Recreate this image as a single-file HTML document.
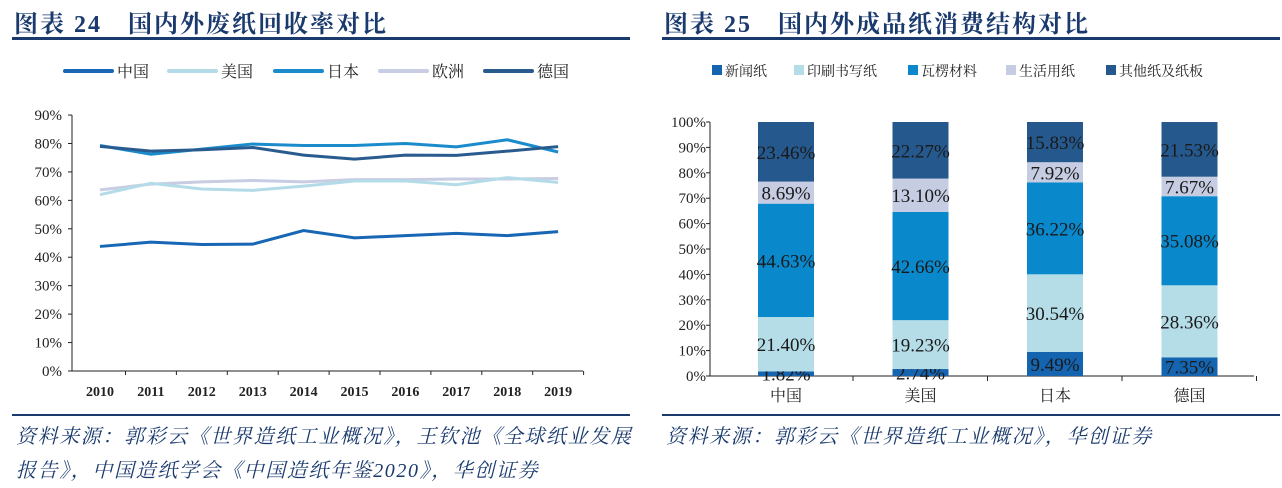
<!DOCTYPE html>
<html><head><meta charset="utf-8"><style>
body{margin:0;width:1282px;height:486px;background:#fff;overflow:hidden;font-family:"Liberation Serif","Noto Serif CJK SC",serif;}
.t{position:absolute;font-weight:bold;font-size:24px;color:#1a3a6e;top:4px;letter-spacing:2px}
.src{position:absolute;font-style:italic;font-size:20px;color:#1a3a6e;font-family:"Liberation Serif","Noto Serif CJK SC",serif;white-space:nowrap;letter-spacing:1.6px}
.hl{position:absolute;height:3px;background:#1a3a6e}
</style></head><body>
<div class="t" style="left:14px">图表 24　国内外废纸回收率对比</div>
<div class="t" style="left:664px">图表 25　国内外成品纸消费结构对比</div>
<div class="hl" style="left:12px;top:37px;width:618px"></div>
<div class="hl" style="left:662px;top:37px;width:618px"></div>
<div class="hl" style="left:12px;top:414px;width:618px;height:2px"></div>
<div class="hl" style="left:662px;top:414px;width:618px;height:2px"></div>
<div class="src" style="left:16px;top:420px;line-height:34px">资料来源：郭彩云《世界造纸工业概况》，王钦池《全球纸业发展<br>报告》，中国造纸学会《中国造纸年鉴2020》，华创证券</div>
<div class="src" style="left:666px;top:420px;line-height:34px">资料来源：郭彩云《世界造纸工业概况》，华创证券</div>
<svg id="c1" width="640" height="400" style="position:absolute;left:0;top:0"></svg>
<svg id="c2" width="640" height="410" style="position:absolute;left:640px;top:0"></svg>
<script>
const years=['2010','2011','2012','2013','2014','2015','2016','2017','2018','2019'];
const seriesNames=['中国','美国','日本','欧洲','德国'];
const seriesColors=['#1767b5','#b3dce8','#1a8ccc','#c8cde3','#2a5b8e'];
const china=[43.8,45.3,44.5,44.6,49.4,46.8,47.6,48.4,47.6,49];
const usa=[62,66,64,63.5,65,66.8,66.8,65.5,68,66.3];
const japan=[79.3,76.2,78,79.8,79.3,79.3,80,78.8,81.3,77];
const europe=[63.7,65.7,66.5,67,66.5,67.3,67.3,67.5,67.5,67.7];
const germany=[79,77.3,77.8,78.6,75.9,74.5,75.9,75.8,77.3,78.9];
const yTicks=[0,10,20,30,40,50,60,70,80,90];

const countries=['中国','美国','日本','德国'];
const segNames=['新闻纸','印刷书写纸','瓦楞材料','生活用纸','其他纸及纸板'];
const segColors=['#1564b0','#b5dde8','#0a88cc','#c6cce2','#25588c'];
const newsprint=[1.82,2.74,9.49,7.35];
const printing=[21.40,19.23,30.54,28.36];
const corrugated=[44.63,42.66,36.22,35.08];
const tissue=[8.69,13.10,7.92,7.67];
const other=[23.46,22.27,15.83,21.53];
const yTicks2=[0,10,20,30,40,50,60,70,80,90,100];

const NS='http://www.w3.org/2000/svg';
function mk(p,t,a){const e=document.createElementNS(NS,t);for(const k in a)e.setAttribute(k,a[k]);p.appendChild(e);return e;}
// chart 1
const s1=document.getElementById('c1');
const x1=i=>100+i*50.9, y1=v=>371-v*2.844;
let ax=mk(s1,'line',{x1:72,y1:y1(90),x2:72,y2:371,stroke:'#222'});

let bx=mk(s1,'line',{x1:72,y1:371,x2:583,y2:371,stroke:'#222'});

yTicks.forEach(v=>{mk(s1,'line',{x1:68,x2:72,y1:y1(v),y2:y1(v),stroke:'#222'});
 const t=mk(s1,'text',{x:62,y:y1(v)+5,'text-anchor':'end','font-size':15,fill:'#222'});t.textContent=v+'%';
 });
years.forEach((yr,i)=>{mk(s1,'line',{x1:x1(i)+25.5,x2:x1(i)+25.5,y1:371,y2:375,stroke:'#222'});
 const t=mk(s1,'text',{x:x1(i),y:396,'text-anchor':'middle','font-size':14,'font-weight':'bold',fill:'#222'});t.textContent=yr;
 });
const data1=[china,usa,japan,europe,germany];
[3,1,0,2,4].forEach(k=>{const p=mk(s1,'polyline',{points:data1[k].map((v,i)=>x1(i)+','+y1(v)).join(' '),fill:'none',stroke:seriesColors[k],'stroke-width':3});
 });
const lx=[65,169,275,380,485];
seriesNames.forEach((n,k)=>{const g=mk(s1,'g',{});
 mk(g,'line',{x1:lx[k],x2:lx[k]+47,y1:71,y2:71,stroke:seriesColors[k],'stroke-width':4,'stroke-linecap':'round'});
 const t=mk(g,'text',{x:lx[k]+52,y:77,'font-size':16,fill:'#222'});t.textContent=n;});
// chart 2
const s2=document.getElementById('c2');
const y2=v=>376-v*2.54, xc=i=>146+i*134.5;
let a2=mk(s2,'line',{x1:70,y1:y2(100),x2:70,y2:376,stroke:'#222'});

let b2=mk(s2,'line',{x1:70,y1:376,x2:614,y2:376,stroke:'#222'});

yTicks2.forEach(v=>{mk(s2,'line',{x1:66,x2:70,y1:y2(v),y2:y2(v),stroke:'#222'});
 const t=mk(s2,'text',{x:66,y:y2(v)+5,'text-anchor':'end','font-size':15,fill:'#222'});t.textContent=v+'%';
 });
const segs=[newsprint,printing,corrugated,tissue,other];
countries.forEach((c,i)=>{mk(s2,'line',{x1:xc(i)+67,x2:xc(i)+67,y1:376,y2:381,stroke:'#222'});
 const t=mk(s2,'text',{x:xc(i),y:401,'text-anchor':'middle','font-size':16,fill:'#222'});t.textContent=c;
 
 let cum=0;segs.forEach((arr,k)=>{const v=arr[i];
  const r=mk(s2,'rect',{x:xc(i)-28,y:y2(cum+v),width:56,height:v*2.54,fill:segColors[k]});
  
  const l=mk(s2,'text',{x:xc(i),y:y2(cum+v/2)+7,'text-anchor':'middle','font-size':19,fill:'#1a1a1a'});l.textContent=v.toFixed(2)+'%';
  
  cum+=v;});});
const lx2=[72,154,268,366,466];
segNames.forEach((n,k)=>{const g=mk(s2,'g',{});
 mk(g,'rect',{x:lx2[k],y:65,width:10,height:10,fill:segColors[k]});
 const t=mk(g,'text',{x:lx2[k]+13,y:76,'font-size':14,fill:'#222'});t.textContent=n;});
</script>
</body></html>
